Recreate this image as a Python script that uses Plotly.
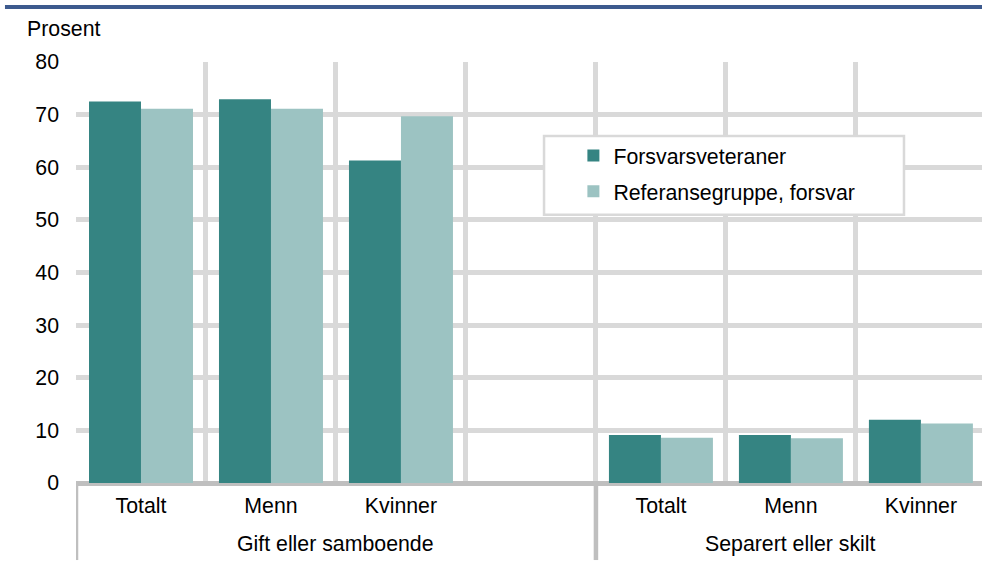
import plotly.graph_objects as go

# Data
categories = ["Totalt", "Menn", "Kvinner", "", "Totalt", "Menn", "Kvinner"]
groups = ["Gift eller samboende", "Separert eller skilt"]
veteraner = [72.5, 72.9, 61.3, None, 9.1, 9.1, 12.0]
referanse = [71.1, 71.1, 69.7, None, 8.6, 8.5, 11.3]
series_names = ["Forsvarsveteraner", "Referansegruppe, forsvar"]
y_ticks = [0, 10, 20, 30, 40, 50, 60, 70, 80]

x_pos = list(range(len(categories)))
label_pos = [i for i, c in enumerate(categories) if c]
label_txt = [c for c in categories if c]

C_VET = "#358482"
C_REF = "#9cc3c2"
GRID = "#d9d9d9"
AXIS = "#bfbfbf"
FONT = "Liberation Sans, Arial, sans-serif"
FS = 21.3

fig = go.Figure()
fig.add_trace(go.Bar(x=x_pos, y=veteraner, name=series_names[0], marker_color=C_VET,
                     marker_line_width=0, legendgroup="a"))
fig.add_trace(go.Bar(x=x_pos, y=referanse, name=series_names[1], marker_color=C_REF,
                     marker_line_width=0, legendgroup="b"))

fig.update_layout(
    width=982, height=568,
    margin=dict(l=76, r=0, t=62, b=85),
    paper_bgcolor="white", plot_bgcolor="white",
    font=dict(family=FONT, size=FS, color="#000000"),
    barmode="group", bargap=0.2, bargroupgap=0,
    showlegend=True,
    legend=dict(x=0.549, y=0.826, xanchor="left", yanchor="top",
                bgcolor="rgba(0,0,0,0)", borderwidth=0,
                tracegroupgap=5, traceorder="grouped",
                font=dict(size=FS, family=FONT)),
    xaxis=dict(range=[-0.5, 6.47], tickmode="array", tickvals=label_pos, ticktext=label_txt,
               showgrid=False, zeroline=False, showline=False, ticks="",
               ticklabelstandoff=8,
               minor=dict(tickmode="array", tickvals=[-0.5, 0.5, 1.5, 2.5, 3.5, 4.5, 5.5],
                          showgrid=True, gridcolor=GRID, gridwidth=4.5, ticks="")),
    yaxis=dict(range=[0, 80], tickmode="array", tickvals=y_ticks,
               showgrid=True, gridcolor=GRID, gridwidth=4.5,
               zeroline=True, zerolinecolor=AXIS, zerolinewidth=4.5,
               showline=False, ticks="", ticklabelstandoff=16),
)

shapes = []
# top blue rule
shapes.append(dict(type="line", xref="paper", yref="paper", x0=-0.0784, x1=1.0,
                   y0=1.1306, y1=1.1306, line=dict(color="#3d5a8e", width=4)))
# group separator lines below axis
for xv in [-0.5, 3.5]:
    shapes.append(dict(type="line", xref="x", yref="paper", x0=xv, x1=xv,
                       y0=0, y1=-0.183, line=dict(color=AXIS, width=4.5)))
# legend box
shapes.append(dict(type="rect", xref="paper", yref="paper", x0=0.5166, x1=0.9139,
                   y0=0.637, y1=0.8242, line=dict(color=GRID, width=2.5),
                   fillcolor="white", layer="above"))
fig.update_layout(shapes=shapes)

annotations = [
    dict(text="Prosent", xref="paper", yref="paper", x=-0.056, y=1.078,
         xanchor="left", yanchor="middle", showarrow=False),
    dict(text=groups[0], xref="x", yref="paper", x=1.5, y=-0.145,
         xanchor="center", yanchor="middle", showarrow=False),
    dict(text=groups[1], xref="x", yref="paper", x=5.0, y=-0.145,
         xanchor="center", yanchor="middle", showarrow=False),
]
fig.update_layout(annotations=annotations)

fig.write_html("out.html",
               config={"displayModeBar": False},
               post_script="document.body.style.margin='0';document.body.style.overflow='hidden';")
